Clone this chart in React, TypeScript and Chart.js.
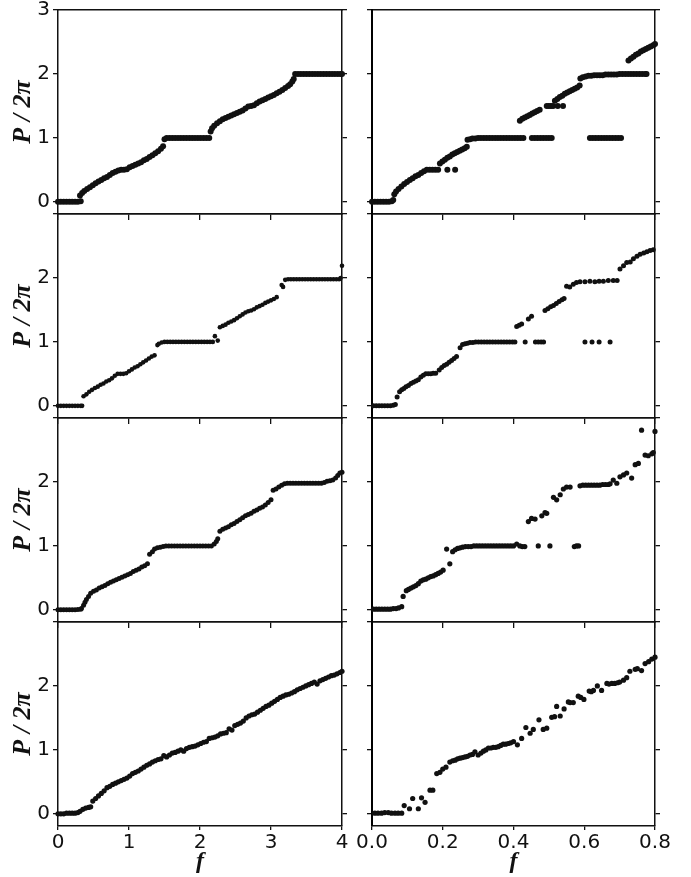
import React, { useEffect, useRef } from 'react';
import { Chart, registerables } from 'chart.js';

Chart.register(...registerables);

type Pt = [number, number];

// ---------- tick labels ----------
const leftXTickLabels = ['0', '1', '2', '3', '4'];
const rightXTickLabels = ['0.0', '0.2', '0.4', '0.6', '0.8'];
const yTickLabelsTop = ['0', '1', '2', '3'];
const yTickLabelsLower = ['0', '1', '2', ''];
const yTitle = 'P / 2π';
const xTitle = 'f';

// ---------- data (f, P/2π) ----------
const row1Left: Pt[] = [
  [0, 0], [0.04, 0], [0.08, 0], [0.12, 0], [0.16, 0], [0.2, 0], [0.24, 0], [0.28, 0], [0.32, 0.01],
  [0.31, 0.1], [0.34, 0.14], [0.37, 0.17], [0.41, 0.2], [0.45, 0.23], [0.49, 0.26], [0.53, 0.29], [0.57, 0.32],
  [0.61, 0.34], [0.65, 0.37], [0.69, 0.39], [0.73, 0.42], [0.77, 0.45], [0.81, 0.47], [0.85, 0.49], [0.89, 0.5],
  [0.93, 0.5], [0.97, 0.51], [1.01, 0.54], [1.05, 0.56], [1.09, 0.58], [1.13, 0.6], [1.17, 0.62], [1.21, 0.65],
  [1.25, 0.67], [1.29, 0.7], [1.33, 0.73], [1.37, 0.76], [1.41, 0.79], [1.45, 0.83], [1.48, 0.87],
  [1.5, 0.98], [1.53, 1], [1.57, 1], [1.61, 1], [1.65, 1], [1.69, 1], [1.73, 1], [1.77, 1], [1.81, 1], [1.85, 1],
  [1.89, 1], [1.93, 1], [1.97, 1], [2.01, 1], [2.05, 1], [2.09, 1], [2.13, 1],
  [2.15, 1.1], [2.17, 1.15], [2.2, 1.19], [2.24, 1.23], [2.28, 1.26], [2.32, 1.29], [2.36, 1.31], [2.4, 1.33],
  [2.44, 1.35], [2.48, 1.37], [2.52, 1.39], [2.56, 1.41], [2.6, 1.43], [2.64, 1.46], [2.68, 1.49], [2.72, 1.5],
  [2.76, 1.51], [2.8, 1.54], [2.84, 1.57], [2.88, 1.59], [2.92, 1.61], [2.96, 1.63], [3.0, 1.65], [3.04, 1.67],
  [3.08, 1.7], [3.12, 1.72], [3.16, 1.75], [3.2, 1.78], [3.24, 1.81], [3.27, 1.84], [3.3, 1.88], [3.32, 1.92],
  [3.34, 2], [3.38, 2], [3.42, 2], [3.46, 2], [3.5, 2], [3.54, 2], [3.58, 2], [3.62, 2], [3.66, 2], [3.7, 2],
  [3.74, 2], [3.78, 2], [3.82, 2], [3.86, 2], [3.9, 2], [3.94, 2], [3.98, 2], [4.0, 2],
];

const row1Right: Pt[] = [
  [0, 0], [0.008, 0], [0.016, 0], [0.024, 0], [0.032, 0], [0.04, 0], [0.048, 0], [0.056, 0.01], [0.06, 0.03],
  [0.063, 0.12], [0.068, 0.16], [0.075, 0.2], [0.083, 0.24], [0.091, 0.28], [0.099, 0.31], [0.107, 0.34],
  [0.115, 0.37], [0.123, 0.4], [0.131, 0.42], [0.139, 0.45], [0.147, 0.48], [0.155, 0.5], [0.163, 0.5],
  [0.171, 0.5], [0.179, 0.5], [0.187, 0.5], [0.213, 0.5], [0.235, 0.5],
  [0.192, 0.6], [0.199, 0.63], [0.206, 0.66], [0.213, 0.69], [0.22, 0.71], [0.227, 0.74], [0.234, 0.76],
  [0.241, 0.78], [0.248, 0.8], [0.255, 0.82], [0.262, 0.84], [0.268, 0.86],
  [0.27, 0.97], [0.277, 0.98], [0.284, 0.99], [0.292, 0.99], [0.3, 1], [0.308, 1], [0.316, 1], [0.324, 1],
  [0.332, 1], [0.34, 1], [0.348, 1], [0.356, 1], [0.364, 1], [0.372, 1], [0.38, 1], [0.388, 1], [0.396, 1],
  [0.404, 1], [0.412, 1], [0.42, 1], [0.428, 1],
  [0.452, 1], [0.46, 1], [0.468, 1], [0.476, 1], [0.484, 1], [0.492, 1], [0.5, 1], [0.508, 1],
  [0.616, 1], [0.624, 1], [0.632, 1], [0.64, 1], [0.648, 1], [0.656, 1], [0.664, 1], [0.672, 1], [0.68, 1],
  [0.688, 1], [0.696, 1], [0.704, 1],
  [0.418, 1.27], [0.425, 1.3], [0.432, 1.32], [0.439, 1.34], [0.446, 1.36], [0.453, 1.38], [0.46, 1.4],
  [0.467, 1.42], [0.474, 1.44],
  [0.494, 1.5], [0.5, 1.5], [0.506, 1.5], [0.512, 1.5], [0.525, 1.5], [0.54, 1.5],
  [0.517, 1.58], [0.524, 1.61], [0.531, 1.64], [0.538, 1.66], [0.545, 1.69], [0.552, 1.71], [0.559, 1.73],
  [0.566, 1.75], [0.573, 1.77], [0.58, 1.79], [0.587, 1.82],
  [0.589, 1.93], [0.596, 1.95], [0.604, 1.96], [0.612, 1.97], [0.62, 1.97], [0.628, 1.98], [0.636, 1.98],
  [0.644, 1.98], [0.652, 1.98], [0.66, 1.99], [0.668, 1.99], [0.676, 1.99], [0.684, 1.99], [0.692, 1.99],
  [0.7, 2], [0.708, 2], [0.716, 2], [0.724, 2], [0.732, 2], [0.74, 2], [0.748, 2], [0.756, 2], [0.764, 2],
  [0.772, 2], [0.776, 2],
  [0.725, 2.21], [0.732, 2.24], [0.739, 2.27], [0.746, 2.3], [0.753, 2.32], [0.76, 2.35], [0.767, 2.37],
  [0.774, 2.39], [0.781, 2.41], [0.788, 2.43], [0.795, 2.45], [0.8, 2.47],
];

const row2Left: Pt[] = [
  [0, 0], [0.04, 0], [0.08, 0], [0.12, 0], [0.16, 0], [0.2, 0], [0.24, 0], [0.28, 0], [0.32, 0], [0.34, 0],
  [0.36, 0.15], [0.4, 0.18], [0.44, 0.22], [0.48, 0.25], [0.52, 0.28], [0.56, 0.3], [0.6, 0.33], [0.64, 0.35],
  [0.68, 0.38], [0.72, 0.4], [0.76, 0.43], [0.8, 0.47], [0.84, 0.5], [0.88, 0.5], [0.92, 0.5], [0.96, 0.51],
  [1.0, 0.54], [1.04, 0.57], [1.08, 0.6], [1.12, 0.62], [1.16, 0.65], [1.2, 0.68], [1.24, 0.71], [1.28, 0.74],
  [1.32, 0.77], [1.36, 0.79],
  [1.4, 0.95], [1.42, 0.97], [1.46, 0.99], [1.5, 1], [1.54, 1], [1.58, 1], [1.62, 1], [1.66, 1], [1.7, 1],
  [1.74, 1], [1.78, 1], [1.82, 1], [1.86, 1], [1.9, 1], [1.94, 1], [1.98, 1], [2.02, 1], [2.06, 1], [2.1, 1],
  [2.14, 1], [2.18, 1], [2.21, 1.09], [2.25, 1.02],
  [2.28, 1.23], [2.32, 1.25], [2.36, 1.27], [2.4, 1.3], [2.44, 1.32], [2.48, 1.34], [2.52, 1.37], [2.56, 1.4],
  [2.6, 1.43], [2.64, 1.46], [2.68, 1.48], [2.72, 1.49], [2.76, 1.51], [2.8, 1.54], [2.84, 1.56], [2.88, 1.58],
  [2.92, 1.61], [2.96, 1.63], [3.0, 1.65], [3.04, 1.67], [3.08, 1.7],
  [3.15, 1.89], [3.17, 1.86], [3.2, 1.97], [3.24, 1.98], [3.28, 1.98], [3.32, 1.98], [3.36, 1.98], [3.4, 1.98],
  [3.44, 1.98], [3.48, 1.98], [3.52, 1.98], [3.56, 1.98], [3.6, 1.98], [3.64, 1.98], [3.68, 1.98], [3.72, 1.98],
  [3.76, 1.98], [3.8, 1.98], [3.84, 1.98], [3.88, 1.98], [3.92, 1.98], [3.96, 1.98], [3.98, 2.0], [4.0, 2.19],
];

const row2Right: Pt[] = [
  [0.004, 0], [0.012, 0], [0.02, 0], [0.028, 0], [0.036, 0], [0.044, 0], [0.052, 0], [0.06, 0.01], [0.066, 0.02],
  [0.071, 0.14], [0.078, 0.22], [0.084, 0.25], [0.09, 0.27], [0.096, 0.3], [0.103, 0.32], [0.11, 0.35],
  [0.117, 0.37], [0.124, 0.39], [0.131, 0.41], [0.138, 0.45], [0.145, 0.48], [0.152, 0.5], [0.159, 0.5],
  [0.166, 0.5], [0.173, 0.51], [0.18, 0.51],
  [0.19, 0.56], [0.197, 0.6], [0.204, 0.63], [0.211, 0.65], [0.218, 0.68], [0.225, 0.71], [0.232, 0.74], [0.239, 0.77],
  [0.249, 0.91], [0.256, 0.96], [0.263, 0.97], [0.27, 0.98], [0.277, 0.99], [0.285, 0.99], [0.293, 1], [0.301, 1],
  [0.309, 1], [0.317, 1], [0.325, 1], [0.333, 1], [0.341, 1], [0.349, 1], [0.357, 1], [0.365, 1], [0.373, 1],
  [0.381, 1], [0.389, 1], [0.397, 1], [0.404, 1],
  [0.433, 1], [0.462, 1], [0.47, 1], [0.478, 1], [0.485, 1],
  [0.602, 1], [0.622, 1], [0.642, 1], [0.673, 1],
  [0.409, 1.24], [0.416, 1.26], [0.423, 1.28], [0.442, 1.36], [0.451, 1.4],
  [0.489, 1.49], [0.497, 1.52], [0.505, 1.55], [0.513, 1.57], [0.521, 1.6], [0.529, 1.63], [0.537, 1.66], [0.543, 1.68],
  [0.55, 1.87], [0.559, 1.86], [0.569, 1.9], [0.578, 1.93], [0.588, 1.94], [0.602, 1.94], [0.616, 1.95],
  [0.63, 1.94], [0.642, 1.95], [0.654, 1.95], [0.668, 1.96], [0.682, 1.96], [0.693, 1.96],
  [0.701, 2.14], [0.711, 2.19], [0.72, 2.24], [0.73, 2.25], [0.739, 2.3], [0.749, 2.34], [0.758, 2.37],
  [0.768, 2.39], [0.777, 2.41], [0.786, 2.43], [0.795, 2.44],
];

const row3Left: Pt[] = [
  [0, 0], [0.04, 0], [0.08, 0], [0.12, 0], [0.16, 0], [0.2, 0], [0.24, 0], [0.28, 0.005], [0.32, 0.01], [0.33, 0.02],
  [0.36, 0.07], [0.38, 0.12], [0.4, 0.16], [0.43, 0.21], [0.46, 0.26], [0.5, 0.29], [0.54, 0.31], [0.58, 0.34],
  [0.62, 0.36], [0.66, 0.38], [0.7, 0.41], [0.74, 0.43], [0.78, 0.45], [0.82, 0.47], [0.86, 0.49], [0.9, 0.51],
  [0.94, 0.53], [0.98, 0.55], [1.02, 0.57], [1.06, 0.6], [1.1, 0.62], [1.14, 0.64], [1.18, 0.67], [1.22, 0.69],
  [1.26, 0.72],
  [1.29, 0.87], [1.33, 0.91], [1.36, 0.95], [1.4, 0.97], [1.44, 0.98], [1.48, 0.99], [1.52, 1], [1.56, 1],
  [1.6, 1], [1.64, 1], [1.68, 1], [1.72, 1], [1.76, 1], [1.8, 1], [1.84, 1], [1.88, 1], [1.92, 1], [1.96, 1],
  [2.0, 1], [2.04, 1], [2.08, 1], [2.12, 1], [2.16, 1], [2.2, 1.03], [2.23, 1.07], [2.25, 1.11],
  [2.28, 1.23], [2.32, 1.26], [2.36, 1.28], [2.4, 1.3], [2.44, 1.33], [2.48, 1.35], [2.52, 1.38], [2.56, 1.41],
  [2.6, 1.44], [2.64, 1.47], [2.68, 1.49], [2.72, 1.51], [2.76, 1.54], [2.8, 1.56], [2.84, 1.59], [2.88, 1.61],
  [2.92, 1.64], [2.96, 1.68], [3.0, 1.72],
  [3.03, 1.87], [3.07, 1.89], [3.11, 1.92], [3.15, 1.95], [3.19, 1.97], [3.23, 1.98], [3.27, 1.98], [3.31, 1.98],
  [3.35, 1.98], [3.39, 1.98], [3.43, 1.98], [3.47, 1.98], [3.51, 1.98], [3.55, 1.98], [3.59, 1.98], [3.63, 1.98],
  [3.67, 1.98], [3.71, 1.98], [3.75, 1.99], [3.79, 2.01], [3.83, 2.02], [3.87, 2.03], [3.91, 2.06], [3.94, 2.1],
  [3.97, 2.14], [4.0, 2.15],
];

const row3Right: Pt[] = [
  [0.004, 0.01], [0.012, 0.01], [0.02, 0.01], [0.028, 0.01], [0.036, 0.01], [0.044, 0.01], [0.052, 0.01],
  [0.06, 0.02], [0.068, 0.02], [0.075, 0.03], [0.084, 0.05],
  [0.088, 0.21], [0.097, 0.3], [0.103, 0.32], [0.11, 0.34], [0.117, 0.36], [0.124, 0.38], [0.131, 0.41],
  [0.138, 0.45], [0.145, 0.47], [0.152, 0.48], [0.159, 0.5], [0.166, 0.52], [0.173, 0.53], [0.18, 0.55],
  [0.187, 0.57], [0.194, 0.59], [0.201, 0.62],
  [0.211, 0.95], [0.22, 0.72], [0.228, 0.91], [0.235, 0.94], [0.242, 0.96], [0.249, 0.97], [0.256, 0.98],
  [0.264, 0.99], [0.272, 0.99], [0.28, 0.99], [0.288, 1], [0.296, 1], [0.304, 1], [0.312, 1], [0.32, 1],
  [0.328, 1], [0.336, 1], [0.344, 1], [0.352, 1], [0.36, 1], [0.368, 1], [0.376, 1], [0.384, 1], [0.392, 1],
  [0.4, 1], [0.409, 1.03], [0.418, 1], [0.425, 0.99], [0.432, 0.99], [0.47, 1], [0.503, 1], [0.572, 0.99],
  [0.578, 1], [0.584, 1],
  [0.442, 1.38], [0.451, 1.43], [0.461, 1.42], [0.48, 1.47], [0.489, 1.52], [0.494, 1.51],
  [0.513, 1.76], [0.522, 1.72], [0.532, 1.8], [0.541, 1.89], [0.55, 1.92], [0.56, 1.92], [0.588, 1.94],
  [0.596, 1.95], [0.604, 1.95], [0.612, 1.95], [0.62, 1.95], [0.628, 1.95], [0.636, 1.95], [0.644, 1.95],
  [0.652, 1.96], [0.66, 1.96], [0.668, 1.96], [0.673, 1.97],
  [0.682, 2.03], [0.692, 1.98], [0.701, 2.08], [0.711, 2.11], [0.72, 2.14], [0.734, 2.06], [0.744, 2.27],
  [0.753, 2.29], [0.762, 2.81], [0.772, 2.42], [0.781, 2.41], [0.791, 2.44], [0.795, 2.46], [0.8, 2.79],
];

const row4Left: Pt[] = [
  [0, 0], [0.04, 0], [0.08, 0], [0.12, 0.01], [0.16, 0.01], [0.2, 0.01], [0.24, 0.01], [0.28, 0.02], [0.31, 0.04],
  [0.35, 0.07], [0.39, 0.09], [0.43, 0.1], [0.46, 0.11], [0.49, 0.2], [0.53, 0.24], [0.57, 0.28], [0.61, 0.32],
  [0.65, 0.36], [0.69, 0.41], [0.73, 0.43], [0.77, 0.46], [0.81, 0.48], [0.85, 0.5], [0.89, 0.52], [0.93, 0.54],
  [0.97, 0.56], [1.01, 0.59], [1.05, 0.63], [1.09, 0.65], [1.13, 0.67], [1.17, 0.7], [1.21, 0.73], [1.25, 0.76],
  [1.29, 0.78], [1.33, 0.81], [1.37, 0.83], [1.41, 0.85], [1.45, 0.86], [1.49, 0.91], [1.53, 0.89], [1.57, 0.92],
  [1.61, 0.95], [1.65, 0.96], [1.69, 0.98], [1.73, 1.0], [1.77, 0.98], [1.81, 1.02], [1.85, 1.04], [1.89, 1.05],
  [1.93, 1.06], [1.97, 1.08], [2.01, 1.1], [2.05, 1.12], [2.09, 1.13], [2.13, 1.18], [2.17, 1.19], [2.21, 1.2],
  [2.25, 1.22], [2.29, 1.25], [2.33, 1.26], [2.37, 1.27], [2.41, 1.33], [2.45, 1.31], [2.49, 1.38], [2.53, 1.4],
  [2.57, 1.42], [2.61, 1.45], [2.65, 1.5], [2.69, 1.53], [2.73, 1.55], [2.77, 1.56], [2.81, 1.59], [2.85, 1.62],
  [2.89, 1.65], [2.93, 1.68], [2.97, 1.7], [3.01, 1.73], [3.05, 1.76], [3.09, 1.79], [3.13, 1.82], [3.17, 1.84],
  [3.21, 1.86], [3.25, 1.87], [3.29, 1.89], [3.33, 1.91], [3.37, 1.94], [3.41, 1.96], [3.45, 1.98], [3.49, 2.0],
  [3.53, 2.02], [3.57, 2.04], [3.61, 2.06], [3.65, 2.03], [3.69, 2.08], [3.73, 2.1], [3.77, 2.12], [3.81, 2.14],
  [3.85, 2.16], [3.89, 2.17], [3.93, 2.19], [3.97, 2.21], [4.0, 2.23],
];

const row4Right: Pt[] = [
  [0.008, 0.01], [0.017, 0.01], [0.027, 0.01], [0.036, 0.02], [0.046, 0.02], [0.055, 0.01], [0.065, 0.01],
  [0.074, 0.01], [0.084, 0.01],
  [0.091, 0.13], [0.106, 0.08], [0.115, 0.24], [0.131, 0.08], [0.14, 0.25], [0.15, 0.18], [0.164, 0.37],
  [0.172, 0.37], [0.183, 0.63], [0.192, 0.65], [0.2, 0.7], [0.209, 0.73], [0.22, 0.81], [0.228, 0.83],
  [0.235, 0.84], [0.242, 0.86], [0.249, 0.87], [0.256, 0.88], [0.263, 0.89], [0.27, 0.9], [0.277, 0.92],
  [0.284, 0.93], [0.291, 0.97], [0.3, 0.92], [0.308, 0.95], [0.315, 0.98], [0.322, 1.0], [0.329, 1.03],
  [0.336, 1.03], [0.343, 1.04], [0.35, 1.04], [0.357, 1.05], [0.364, 1.07], [0.371, 1.09], [0.378, 1.09],
  [0.385, 1.1], [0.392, 1.11], [0.4, 1.13], [0.411, 1.08], [0.423, 1.18], [0.435, 1.35], [0.447, 1.26],
  [0.456, 1.32], [0.472, 1.47], [0.484, 1.32], [0.494, 1.34], [0.508, 1.51], [0.516, 1.52], [0.522, 1.68],
  [0.532, 1.53], [0.543, 1.64], [0.555, 1.75], [0.56, 1.74], [0.569, 1.74], [0.583, 1.84], [0.59, 1.82],
  [0.599, 1.79], [0.614, 1.92], [0.62, 1.91], [0.626, 1.93], [0.637, 2.0], [0.649, 1.93], [0.664, 2.04],
  [0.67, 2.03], [0.678, 2.04], [0.686, 2.04], [0.694, 2.05], [0.7, 2.06], [0.711, 2.09], [0.72, 2.13],
  [0.729, 2.23], [0.744, 2.26], [0.75, 2.27], [0.762, 2.24], [0.772, 2.35], [0.782, 2.38], [0.791, 2.42],
  [0.8, 2.45],
];

const panels: { points: Pt[]; col: number; row: number; radius: number }[] = [
  { points: row1Left, col: 0, row: 0, radius: 3 },
  { points: row1Right, col: 1, row: 0, radius: 3 },
  { points: row2Left, col: 0, row: 1, radius: 2.3 },
  { points: row2Right, col: 1, row: 1, radius: 2.5 },
  { points: row3Left, col: 0, row: 2, radius: 2.5 },
  { points: row3Right, col: 1, row: 2, radius: 2.6 },
  { points: row4Left, col: 0, row: 3, radius: 2.6 },
  { points: row4Right, col: 1, row: 3, radius: 2.6 },
];

// ---------- layout / style ----------
const INK = '#111111';
const ROW_TOPS = [10, 214, 418, 622];
const PANEL_H = 204;
const TOP_BOX = 18;
const COLS = [
  { canvasLeft: 0, leftBox: 58, plotW: 284, xMax: 4, step: 1, labels: leftXTickLabels },
  { canvasLeft: 352, leftBox: 20, plotW: 283, xMax: 0.8, step: 0.2, labels: rightXTickLabels },
];
const RIGHT_BOX = 22;
const Y_MIN = -0.19;
const Y_MAX = 3;
const TICK_FONT = { family: 'DejaVu Sans', size: 20 };

function Panel({ points, col, row, radius }: { points: Pt[]; col: number; row: number; radius: number }) {
  const ref = useRef<HTMLCanvasElement | null>(null);
  const c = COLS[col];
  const isBottom = row === 3;
  const isLeft = col === 0;
  const bottomBox = isBottom ? 50 : 18;
  const width = c.leftBox + c.plotW + RIGHT_BOX;
  const height = TOP_BOX + PANEL_H + bottomBox;
  const top = ROW_TOPS[row] - TOP_BOX;

  useEffect(() => {
    if (!ref.current) return;
    const yLabels = row === 0 ? yTickLabelsTop : yTickLabelsLower;
    const border = { display: true, color: INK, width: 1.5 };
    const chart = new Chart(ref.current, {
      type: 'scatter',
      data: {
        datasets: [
          {
            data: points.map(([x, y]) => ({ x, y })),
            pointRadius: radius,
            pointHoverRadius: radius,
            pointBackgroundColor: INK,
            pointBorderWidth: 0,
            borderWidth: 0,
            showLine: false,
            clip: false as any,
          },
        ],
      },
      options: {
        responsive: false,
        animation: false,
        events: [],
        layout: { padding: 0 },
        plugins: { legend: { display: false }, tooltip: { enabled: false } },
        scales: {
          x: {
            type: 'linear',
            position: 'bottom',
            min: 0,
            max: c.xMax,
            ticks: {
              stepSize: c.step,
              display: isBottom,
              font: TICK_FONT,
              color: INK,
              padding: 1,
              maxRotation: 0,
              autoSkip: false,
              callback: (_v: any, i: number) => c.labels[i],
            },
            grid: { drawOnChartArea: false, drawTicks: true, tickLength: isBottom ? 4 : 6, color: INK, lineWidth: 1.3 },
            border,
            title: {
              display: isBottom,
              text: xTitle,
              color: INK,
              font: { family: 'Liberation Serif', size: 24, style: 'italic', weight: 'bold' },
              padding: { top: 0, bottom: 0 },
            },
            afterFit: (s: any) => {
              s.height = bottomBox;
            },
          },
          xTop: {
            type: 'linear',
            position: 'top',
            min: 0,
            max: c.xMax,
            ticks: { display: false, stepSize: c.step },
            grid: { drawOnChartArea: false, drawTicks: false },
            border,
            afterFit: (s: any) => {
              s.height = TOP_BOX;
            },
          },
          y: {
            type: 'linear',
            position: 'left',
            min: Y_MIN,
            max: Y_MAX,
            ticks: {
              stepSize: 1,
              includeBounds: false,
              display: isLeft,
              font: TICK_FONT,
              color: INK,
              padding: 3,
              callback: (_v: any, i: number) => yLabels[i],
            },
            grid: { drawOnChartArea: false, drawTicks: true, tickLength: 5, color: INK, lineWidth: 1.3 },
            border: isLeft ? border : { display: true, color: '#000', width: 2 },
            title: {
              display: isLeft,
              text: yTitle,
              color: INK,
              font: { family: 'Liberation Serif', size: 26, style: 'italic', weight: 'bold' },
              padding: { top: 8, bottom: 0 },
            },
            afterFit: (s: any) => {
              s.width = c.leftBox;
            },
          },
          yRight: {
            type: 'linear',
            position: 'right',
            min: Y_MIN,
            max: Y_MAX,
            ticks: { stepSize: 1, includeBounds: false, display: false },
            grid: { drawOnChartArea: false, drawTicks: true, tickLength: 5, color: INK, lineWidth: 1.3 },
            border,
            afterFit: (s: any) => {
              s.width = RIGHT_BOX;
            },
          },
        },
      } as any,
    });
    return () => chart.destroy();
  }, []);

  return (
    <canvas
      ref={ref}
      width={width}
      height={height}
      style={{ position: 'absolute', left: c.canvasLeft, top, width, height }}
    />
  );
}

export default function App() {
  useEffect(() => {
    document.body.style.overflow = 'hidden';
  }, []);
  return (
    <div style={{ position: 'absolute', left: 0, top: 0, width: 691, height: 877, background: '#fff' }}>
      {panels.map((p, i) => (
        <Panel key={i} points={p.points} col={p.col} row={p.row} radius={p.radius} />
      ))}
    </div>
  );
}
